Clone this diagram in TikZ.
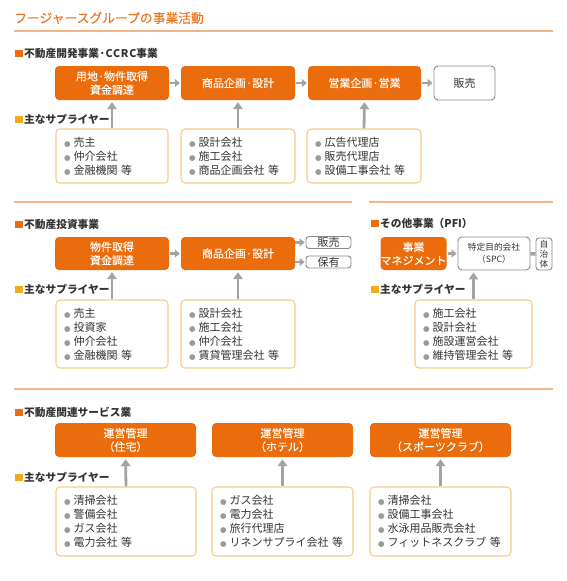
\documentclass[tikz,border=0pt]{standalone}
\usepackage{fontspec}
\setmainfont{Noto Sans CJK JP}
\newfontfamily\dvfont{DejaVu Sans}
\usetikzlibrary{arrows.meta}
\definecolor{boxorange}{HTML}{EA6C0C}
\definecolor{titleorange}{HTML}{EC7424}
\definecolor{lineorange}{HTML}{F3B585}
\definecolor{supborder}{HTML}{F4CD88}
\definecolor{sqyellow}{HTML}{F5A91C}
\definecolor{arrgray}{HTML}{A3A3A3}
\definecolor{bulgray}{HTML}{9A9A9A}
\definecolor{boxgray}{HTML}{8A8A8A}
\definecolor{txt}{HTML}{333333}
\newcommand{\bul}{{\dvfont\fontsize{7.5}{7}\selectfont\textcolor{bulgray}{●}}\hspace{3pt}}
\newcommand{\wideltr}[1]{{\addfontfeature{LetterSpace=7}#1}}
\tikzset{
  x=1pt, y=-1pt,
  obox/.style={rectangle, rounded corners=4pt, fill=boxorange, text=white, align=center,
    font=\fontsize{11}{13.5}\selectfont\addfontfeature{FakeBold=0.1}, inner sep=0pt},
  wbox/.style={rectangle, rounded corners=4pt, draw=boxgray, line width=0.9pt, fill=white,
    text=txt, align=center, font=\fontsize{11}{13.5}\selectfont, inner sep=0pt},
  supbox/.style={rectangle, rounded corners=4pt, draw=supborder, line width=1.1pt, fill=white,
    text=txt, align=left, font=\fontsize{11}{14}\selectfont, inner xsep=8pt, inner ysep=0pt},
  harr/.style={draw=arrgray, line width=2.6pt, -{Triangle[length=5pt,width=8pt]}, shorten <=1pt, shorten >=1pt},
  varr/.style={draw=arrgray, line width=2.8pt, -{Triangle[length=7pt,width=9.5pt]}, shorten >=2pt},
  secline/.style={draw=lineorange, line width=1.1pt},
  head/.style={anchor=west, text=txt, font=\fontsize{10.7}{12}\selectfont\bfseries, inner sep=0pt},
}
\begin{document}
\begin{tikzpicture}
\useasboundingbox (0,0) rectangle (567,581);
% title
\node[anchor=west, text=titleorange, font=\fontsize{12.8}{14}\selectfont\addfontfeature{FakeBold=0.3}, inner sep=0pt] (title) at (14,18) {フージャースグループの事業活動};
\draw[secline] (14,31) -- (553,31);

% ===== Section 1 =====
\fill[boxorange] (15,49.5) rectangle (22.5,57);
\node[head] (h1) at (24,53) {不動産開発事業·\wideltr{CCRC}事業};
\node[obox, minimum width=114, minimum height=34] (a1) at (112,83) {用地·物件取得\\資金調達};
\node[obox, minimum width=114, minimum height=34] (a2) at (238,83) {商品企画·設計};
\node[obox, minimum width=113, minimum height=34] (a3) at (364.5,83) {営業企画·営業};
\node[wbox, minimum width=61, minimum height=34] (a4) at (464.5,83) {販売};
\draw[harr] (a1) -- (a2);
\draw[harr] (a2) -- (a3);
\draw[harr] (a3) -- (a4);
\fill[sqyellow] (15,115.5) rectangle (22.5,123);
\node[head] (s1h) at (24,119) {主なサプライヤー};
\node[supbox, text width=96, minimum height=54] (b1) at (112,156) {\bul 売主\\\bul 仲介会社\\\bul 金融機関 等};
\node[supbox, text width=98, minimum height=54] (b2) at (238,156) {\bul 設計会社\\\bul 施工会社\\\bul 商品企画会社 等};
\node[supbox, text width=98, minimum height=54] (b3) at (364,156) {\bul 広告代理店\\\bul 販売代理店\\\bul 設備工事会社 等};
\draw[varr] (b1.north) -- (a1.south);
\draw[varr] (b2.north) -- (a2.south);
\draw[varr] (b3.north) -- (a3.south);

% ===== Section 2 =====
\draw[secline] (14,202) -- (352,202);
\draw[secline] (369,202) -- (553,202);
\fill[boxorange] (15,220.5) rectangle (22.5,228);
\node[head] (h2) at (24,224) {不動産投資事業};
\node[obox, minimum width=114, minimum height=33] (c1) at (112,253.5) {物件取得\\資金調達};
\node[obox, minimum width=114, minimum height=33] (c2) at (238,253.5) {商品企画·設計};
\node[wbox, minimum width=45, minimum height=12, rounded corners=3pt] (c3) at (328.5,242.5) {販売};
\node[wbox, minimum width=45, minimum height=12, rounded corners=3pt] (c4) at (328.5,262) {保有};
\draw[harr] (c1) -- (c2);
\coordinate (c2a) at (295,242.5);
\coordinate (c2b) at (295,262);
\draw[harr, shorten <=0pt] (c2a) -- (c3.west);
\draw[harr, shorten <=0pt] (c2b) -- (c4.west);
\fill[sqyellow] (15,285.5) rectangle (22.5,293);
\node[head] (s2h) at (24,289) {主なサプライヤー};
\node[supbox, text width=96, minimum height=68] (d1) at (112,334) {\bul 売主\\\bul 投資家\\\bul 仲介会社\\\bul 金融機関 等};
\node[supbox, text width=98, minimum height=68] (d2) at (238,334) {\bul 設計会社\\\bul 施工会社\\\bul 仲介会社\\\bul 賃貸管理会社 等};
\draw[varr] (d1.north) -- (c1.south);
\draw[varr] (d2.north) -- (c2.south);

% ===== PFI =====
\fill[boxorange] (371,219.5) rectangle (378.5,227);
\node[head] (h3) at (380,223) {その他事業（PFI）};
\node[obox, minimum width=63, minimum height=33] (e1) at (413.5,253.5) {事業\\マネジメント};
\node[wbox, minimum width=72, minimum height=33, font=\fontsize{8.7}{12}\selectfont] (e2) at (494,253.5) {特定目的会社\\（SPC）};
\node[wbox, minimum width=16, minimum height=32, rounded corners=3pt, font=\fontsize{8.7}{10}\selectfont] (e3) at (544,254) {自\\治\\体};
\draw[harr] (e1) -- (e2);
\draw[draw=arrgray, line width=3.5pt] (e2) -- (e3);
\fill[sqyellow] (371,285.5) rectangle (378.5,293);
\node[head] (s3h) at (380,289) {主なサプライヤー};
\node[supbox, text width=101, minimum height=68] (f1) at (473.5,334) {\bul 施工会社\\\bul 設計会社\\\bul 施設運営会社\\\bul 維持管理会社 等};
\draw[varr] (f1.north) -- (f1.north |- e2.south);

% ===== Section 3 =====
\draw[secline] (14,389) -- (553,389);
\fill[boxorange] (15,408.5) rectangle (22.5,416);
\node[head] (h4) at (24,412) {不動産関連サービス業};
\node[obox, minimum width=141, minimum height=34] (g1) at (125.5,440) {運営管理\\（住宅）};
\node[obox, minimum width=141, minimum height=34] (g2) at (282.5,440) {運営管理\\（ホテル）};
\node[obox, minimum width=141, minimum height=34] (g3) at (440.5,440) {運営管理\\（スポーツクラブ）};
\fill[sqyellow] (15,473.5) rectangle (22.5,481);
\node[head] (s4h) at (24,477) {主なサプライヤー};
\node[supbox, text width=124, minimum height=69] (k1) at (126,521.5) {\bul 清掃会社\\\bul 警備会社\\\bul ガス会社\\\bul 電力会社 等};
\node[supbox, text width=125, minimum height=69] (k2) at (282.5,521.5) {\bul ガス会社\\\bul 電力会社\\\bul 旅行代理店\\\bul リネンサプライ会社 等};
\node[supbox, text width=125, minimum height=69] (k3) at (440.5,521.5) {\bul 清掃会社\\\bul 設備工事会社\\\bul 水泳用品販売会社\\\bul フィットネスクラブ 等};
\draw[varr] (k1.north) -- (g1.south);
\draw[varr] (k2.north) -- (g2.south);
\draw[varr] (k3.north) -- (g3.south);
\end{tikzpicture}
\end{document}
